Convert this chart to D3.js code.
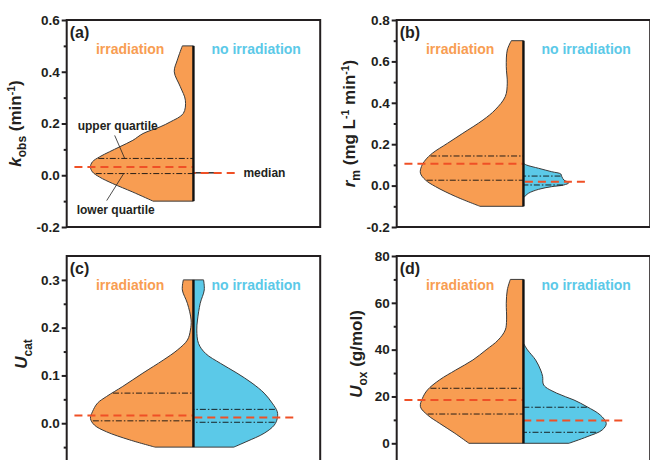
<!DOCTYPE html>
<html>
<head>
<meta charset="utf-8">
<title>split violins</title>
<script src="https://d3js.org/d3.v7.min.js"></script>
<style>
  body { margin: 0; background: #fff; }
  svg { display: block; font-family: "Liberation Sans", Arial, sans-serif; }
</style>
</head>
<body>
<svg id="chart" width="650" height="460"></svg>
<script>
// ---- data: violin outlines as [value, relative density %], quartiles as [lower, median, upper]
var kIrrProfile = [[0.5,11],[0.445,16],[0.40,19],[0.342,13],[0.29,8],[0.239,10],[0.206,23],[0.187,33],[0.161,50],
  [0.135,60],[0.11,73],[0.091,83],[0.071,93],[0.052,100],[0.032,102],[0.013,100],[-0.007,93],[-0.032,80],[-0.065,60],[-0.1,40]];
var kIrrQuart = [0.0065, 0.032, 0.065];
var kNoProfile = [[0.0105,25],[0.0085,25]];
var kNoQuart = [0.009, 0.009, 0.009];

var rmIrrProfile = [[0.70,12],[0.655,16],[0.575,17],[0.495,16],[0.43,18],[0.366,28],[0.317,40],[0.253,60],[0.205,75],
  [0.157,90],[0.124,97],[0.092,101],[0.06,102],[0.027,97],[-0.005,87],[-0.053,67],[-0.1,43]];
var rmIrrQuart = [0.026, 0.105, 0.143];
var rmNoProfile = [[0.108,0],[0.0995,3],[0.0836,15],[0.067,28],[0.056,37],[0.043,38],[0.027,40],[0.014,45],[0.003,40],
  [-0.005,28],[-0.018,15],[-0.037,5],[-0.054,1]];
var rmNoQuart = [0.003, 0.018, 0.046];

var ucIrrProfile = [[0.3,10],[0.279,11],[0.251,6],[0.216,2.3],[0.195,3],[0.174,6],[0.153,16],[0.132,30],[0.105,50],
  [0.077,70],[0.056,86],[0.042,95],[0.024,100],[0.010,102],[-0.004,98],[-0.018,86],[-0.035,63],[-0.05,38]];
var ucIrrQuart = [0.005, 0.016, 0.063];
var ucNoProfile = [[0.3,10],[0.279,10.7],[0.251,6.7],[0.216,4],[0.195,3.3],[0.167,5],[0.146,12],[0.125,27],[0.105,43],
  [0.084,58],[0.063,70],[0.042,78],[0.024,83],[0.010,83],[-0.004,80],[-0.021,70],[-0.038,53],[-0.05,40]];
var ucNoQuart = [0.002, 0.012, 0.029];

var uoIrrProfile = [[70,13],[65.5,16],[59.8,17],[52.7,16.7],[48.4,18],[44.1,25],[39.9,37],[35.6,50],[31.3,67],[27.1,83],
  [22.8,95],[19.2,100],[15.6,102],[12.1,95],[8.5,83],[4.3,68],[0,54]];
var uoIrrQuart = [12.5, 18.5, 23.5];
var uoNoProfile = [[42.7,0],[39.9,4],[35.6,12],[31.3,17],[28.5,19],[24.9,20],[21.4,33],[18.5,50],[15.6,63],[12.1,76],
  [8.5,82],[5.7,78],[2.8,63],[0,45]];
var uoNoQuart = [4.7, 9.7, 15.4];

var groupLabels = ["irradiation", "no irradiation"];
var panelLabels = ["(a)", "(b)", "(c)", "(d)"];

// ---- look
var orange = "#f89d52", blue = "#5bc9e8", medianRed = "#ef5026", ink = "#231f20";
var panelW = 253.5;
var viewH = 460;

var panels = [
  { label: panelLabels[0], left: 66.7, top: 20, bottom: 227, domain: [-0.2, 0.6], major: 0.2, minor: 0.1, fmt: ".1f",
    titleX: 21, title: [["k","i"],["obs","sub"],[" (min","n"],["-1","sup"],[")","n"]],
    irr: kIrrProfile, irrQ: kIrrQuart, no: kNoProfile, noQ: kNoQuart },
  { label: panelLabels[1], left: 396.7, top: 20, bottom: 227, domain: [-0.2, 0.8], major: 0.2, minor: 0.1, fmt: ".1f",
    titleX: 355, title: [["r","i"],["m","sub"],[" (mg L","n"],["-1","sup"],[" min","n"],["-1","sup"],[")","n"]],
    irr: rmIrrProfile, irrQ: rmIrrQuart, no: rmNoProfile, noQ: rmNoQuart },
  { label: panelLabels[2], left: 66.7, top: 256, bottom: 471, domain: [-0.1, 0.35], major: 0.1, minor: 0.05, fmt: ".1f",
    titleX: 27, title: [["U","i"],["cat","sub"]],
    irr: ucIrrProfile, irrQ: ucIrrQuart, no: ucNoProfile, noQ: ucNoQuart },
  { label: panelLabels[3], left: 396.7, top: 256, bottom: 466.7, domain: [-10, 80], major: 20, minor: 10, fmt: "d",
    titleX: 362, title: [["U","i"],["ox","sub"],[" (g/mol)","n"]],
    irr: uoIrrProfile, irrQ: uoIrrQuart, no: uoNoProfile, noQ: uoNoQuart }
];

var svg = d3.select("#chart");
var wScale = d3.scaleLinear().domain([0, 100]).range([0, 101]);

function stepValues(lo, hi, step, skipEnds) {
  var out = [];
  var start = Math.ceil(lo / step - 1e-9), stop = Math.floor(hi / step + 1e-9);
  for (var i = start; i <= stop; i++) {
    var v = +(i * step).toFixed(6);
    if (skipEnds && (Math.abs(v - lo) < 1e-9 || Math.abs(v - hi) < 1e-9)) continue;
    out.push(v);
  }
  return out;
}

panels.forEach(function(p, pi) {
  var g = svg.append("g");
  var right = p.left + panelW;
  var cx = (p.left + right) / 2;
  var y = d3.scaleLinear().domain(p.domain).range([p.bottom, p.top]);

  var sides = [
    { prof: p.irr, q: p.irrQ, dir: -1, fill: orange },
    { prof: p.no, q: p.noQ, dir: 1, fill: blue }
  ];

  sides.forEach(function(s) {
    var area = d3.area()
      .curve(d3.curveCatmullRom.alpha(0.5))
      .y(function(d) { return y(d[0]); })
      .x0(cx)
      .x1(function(d) { return cx + s.dir * wScale(d[1]); });
    g.append("path").datum(s.prof)
      .attr("d", area)
      .attr("fill", s.fill)
      .attr("stroke", "#3a3a3a")
      .attr("stroke-width", 1);
  });

  // quartile lines
  sides.forEach(function(s) {
    if (s.q[0] === s.q[2]) return;
    var widthAt = d3.scaleLinear().domain(s.prof.map(function(d) { return d[0]; }))
      .range(s.prof.map(function(d) { return d[1]; }));
    [s.q[0], s.q[2]].forEach(function(v) {
      g.append("line")
        .attr("x1", cx + s.dir * (wScale(widthAt(v)) - 1)).attr("x2", cx)
        .attr("y1", y(v)).attr("y2", y(v))
        .attr("stroke", "#111").attr("stroke-width", 0.9)
        .attr("stroke-dasharray", "6,2,1.5,2");
    });
  });

  // median lines
  sides.forEach(function(s) {
    var maxW = d3.max(s.prof, function(d) { return d[1]; });
    g.append("line")
      .attr("x1", cx + s.dir * (wScale(maxW) + 16)).attr("x2", cx)
      .attr("y1", y(s.q[1])).attr("y2", y(s.q[1]))
      .attr("stroke", medianRed).attr("stroke-width", 2)
      .attr("stroke-dasharray", "8,5");
  });

  // centre line
  var all = p.irr.concat(p.no);
  g.append("line")
    .attr("x1", cx).attr("x2", cx)
    .attr("y1", y(d3.max(all, function(d) { return d[0]; })))
    .attr("y2", y(d3.min(all, function(d) { return d[0]; })))
    .attr("stroke", "#111").attr("stroke-width", 2.4);

  // frame
  g.append("rect")
    .attr("x", p.left).attr("y", p.top)
    .attr("width", panelW).attr("height", p.bottom - p.top)
    .attr("fill", "none").attr("stroke", ink).attr("stroke-width", 2);

  // axis (ticks that fall below the visible page are left out)
  var visible = function(v) { return y(v) < viewH - 4; };
  var majors = stepValues(p.domain[0], p.domain[1], p.major, false).filter(visible);
  var minors = stepValues(p.domain[0], p.domain[1], p.minor, true).filter(function(v) {
    return visible(v) && majors.every(function(m) { return Math.abs(m - v) > 1e-9; });
  });
  var fmt = d3.format(p.fmt);
  var ax = g.append("g").attr("transform", "translate(" + p.left + ",0)")
    .call(d3.axisLeft(y).tickValues(majors).tickSize(5).tickPadding(2)
      .tickFormat(function(d) { return fmt(d).replace("\u2212", "-"); }));
  var axm = g.append("g").attr("transform", "translate(" + p.left + ",0)")
    .call(d3.axisLeft(y).tickValues(minors).tickSize(3).tickFormat(""));
  [ax, axm].forEach(function(a) {
    a.select(".domain").remove();
    a.selectAll("line").attr("stroke", ink).attr("stroke-width", 2);
  });
  ax.selectAll("text")
    .attr("fill", ink)
    .style("font-size", "13.5px").style("font-weight", "bold")
    .style("font-family", "'Liberation Sans', Arial, sans-serif");

  // axis title
  var t = g.append("text")
    .attr("transform", "translate(" + p.titleX + "," + ((p.top + Math.min(p.bottom, viewH)) / 2 + (p.bottom > viewH ? -4 : 0)) + ") rotate(-90)")
    .attr("text-anchor", "middle").attr("dy", "0.35em")
    .attr("fill", ink).style("font-size", "17px").style("font-weight", "bold");
  var shift = 0;
  p.title.forEach(function(part) {
    var target = part[1] === "sub" ? 5 : part[1] === "sup" ? -6 : 0;
    var ts = t.append("tspan").text(part[0]).attr("dy", target - shift);
    shift = target;
    if (part[1] === "i") ts.style("font-style", "italic");
    if (part[1] === "sub") ts.style("font-size", "12px");
    if (part[1] === "sup") ts.style("font-size", "10.5px");
  });

  // labels
  g.append("text").attr("x", p.left + 3).attr("y", p.top + 18)
    .attr("fill", ink).style("font-size", "16px").style("font-weight", "bold")
    .text(p.label);
  g.append("text").attr("x", p.left + 63.5).attr("y", p.top + 34)
    .attr("text-anchor", "middle").attr("fill", orange)
    .style("font-size", "14px").style("font-weight", "bold")
    .text(groupLabels[0]);
  g.append("text").attr("x", p.left + 189.5).attr("y", p.top + 34)
    .attr("text-anchor", "middle").attr("fill", blue)
    .style("font-size", "14px").style("font-weight", "bold")
    .text(groupLabels[1]);

  // annotations on panel (a)
  if (pi === 0) {
    var ann = [
      { text: "upper quartile", tx: p.left + 11, ty: y(p.irrQ[2]) - 28, lx1: p.left + 48, ly1: y(p.irrQ[2]) - 23, lx2: p.left + 58, ly2: y(p.irrQ[2]) },
      { text: "lower quartile", tx: p.left + 10, ty: y(p.irrQ[0]) + 40, lx1: p.left + 40, ly1: y(p.irrQ[0]) + 27, lx2: p.left + 57, ly2: y(p.irrQ[0]) },
      { text: "median", tx: cx + 50, ty: y(p.noQ[1]) + 4 }
    ];
    ann.forEach(function(a) {
      g.append("text").attr("x", a.tx).attr("y", a.ty)
        .attr("fill", ink).style("font-size", "12px").style("font-weight", "bold")
        .text(a.text);
      if (a.lx1 !== undefined) {
        g.append("line").attr("x1", a.lx1).attr("y1", a.ly1).attr("x2", a.lx2).attr("y2", a.ly2)
          .attr("stroke", "#222").attr("stroke-width", 0.8);
      }
    });
  }
});
</script>
</body>
</html>
